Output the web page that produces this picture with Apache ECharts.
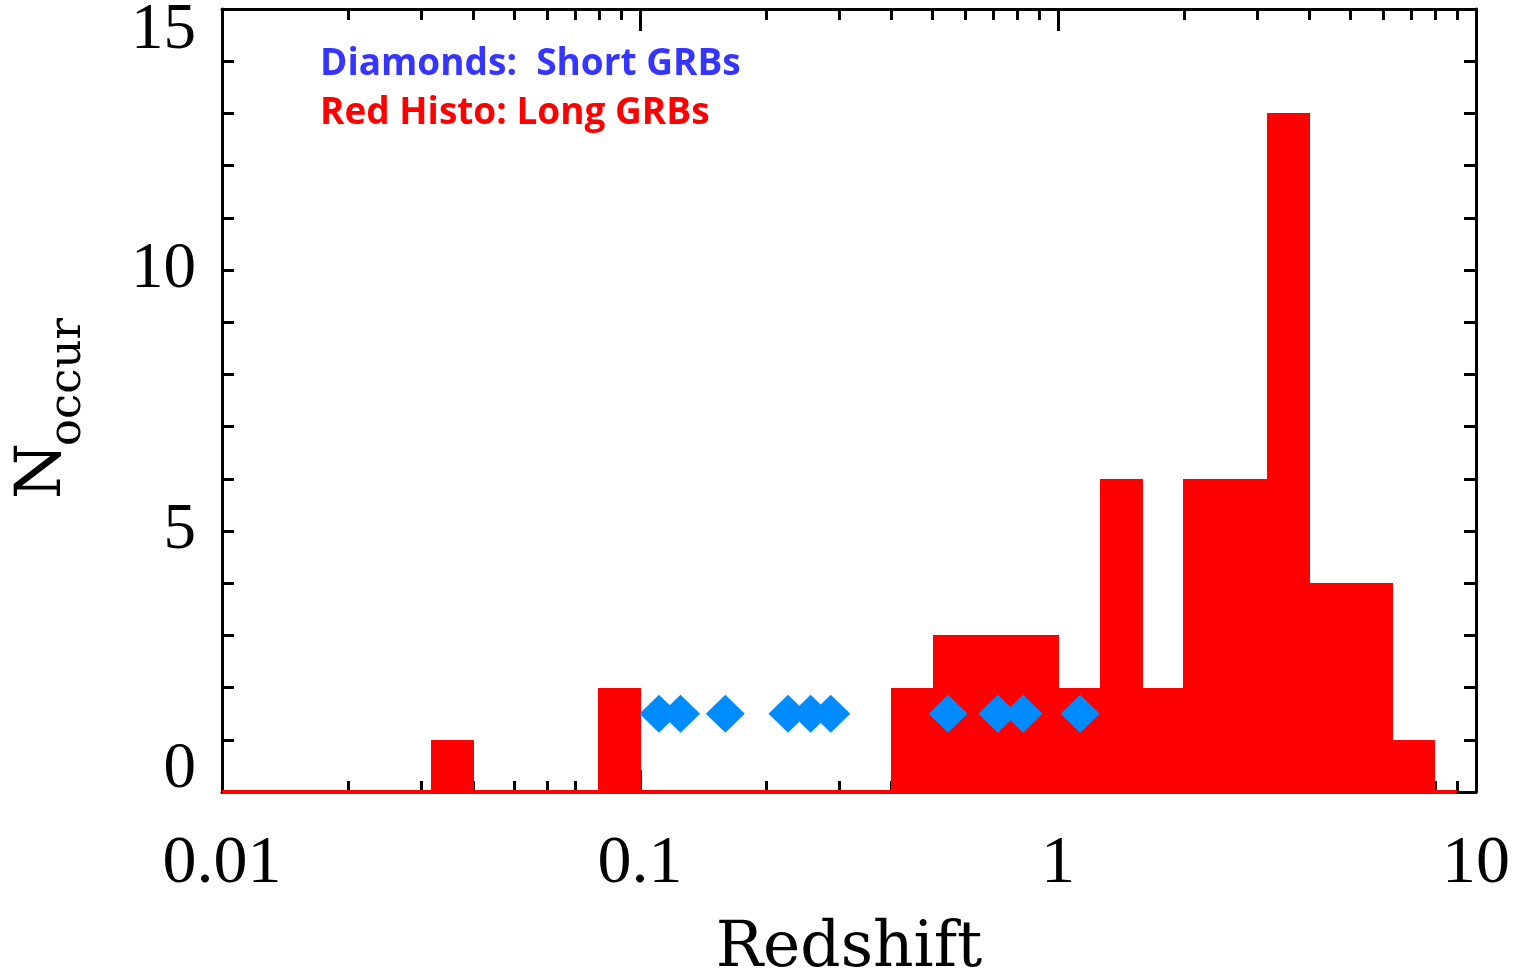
<!DOCTYPE html>
<html><head><meta charset="utf-8">
<script src="https://cdn.jsdelivr.net/npm/echarts@6/dist/echarts.min.js"></script>
<style>html,body{margin:0;padding:0;background:#fff}#c{width:1524px;height:976px}</style>
</head><body><div id="c"></div>
<script>
// Long GRB histogram bins (redshift edges, 0.1 dex bins) and counts
const longBinLo  = [0.0316, 0.0794, 0.398, 0.501, 0.631, 0.794, 1.000, 1.259, 1.585, 1.995, 2.512, 3.162, 3.981, 5.012, 6.310];
const longBinHi  = [0.0398, 0.1000, 0.501, 0.631, 0.794, 1.000, 1.259, 1.585, 1.995, 2.512, 3.162, 3.981, 5.012, 6.310, 7.943];
const longCounts = [1, 2, 2, 3, 3, 3, 2, 6, 2, 6, 6, 13, 4, 4, 1];
// Histogram zero-level extent
const histRange = [0.01, 9.0];
// Short GRB redshifts (diamonds) and their plotted level
const shortRedshifts = [0.111, 0.125, 0.160, 0.226, 0.256, 0.286, 0.546, 0.718, 0.825, 1.13];
const shortLevel = 1.5;
// Axis ticks
const xMajorTicks = [0.01, 0.1, 1, 10];
const xMinorTicks = [0.02,0.03,0.04,0.05,0.06,0.07,0.08,0.09,0.2,0.3,0.4,0.5,0.6,0.7,0.8,0.9,2,3,4,5,6,7,8,9];
const xLabels = ['0.01', '0.1', '1', '10'];
const yMin = 0, yMax = 15, yStep = 5;

const chart = echarts.init(document.getElementById('c'), null, {renderer: 'canvas'});
const tickFont = '"Liberation Serif", "Times New Roman", serif';
const titleFont = '"DejaVu Serif", serif';
const lineStyle = {color: '#000', width: 3};

function xAxisDef(pos, major, showLabel) {
  return {
    type: 'log', logBase: 10, min: 0.01, max: 10, position: pos, gridIndex: 0,
    axisLine: {show: major, lineStyle: lineStyle},
    axisTick: {show: true, inside: true, length: major ? 22 : 11, lineStyle: lineStyle,
               customValues: major ? xMajorTicks : xMinorTicks},
    axisLabel: {show: showLabel, margin: 38, color: '#000', fontFamily: tickFont, fontSize: 68,
                customValues: xMajorTicks,
                formatter: v => xLabels[xMajorTicks.findIndex(t => Math.abs(Math.log10(t) - Math.log10(v)) < 1e-6)] ?? ''},
    splitLine: {show: false}, minorTick: {show: false},
    name: showLabel ? 'Redshift' : '', nameLocation: 'middle', nameGap: 126,
    nameTextStyle: {color: '#000', fontFamily: titleFont, fontSize: 63}
  };
}
function yAxisDef(pos, showLabel) {
  return {
    type: 'value', min: yMin, max: yMax, interval: yStep, position: pos,
    axisLine: {show: true, lineStyle: lineStyle},
    axisTick: {show: true, inside: true, length: 12, lineStyle: lineStyle},
    minorTick: {show: true, splitNumber: 5, length: 12, lineStyle: {color: '#000', width: 3}},
    axisLabel: {show: showLabel, margin: 26, color: '#000', fontFamily: tickFont, fontSize: 65,
                lineHeight: 44,
                verticalAlignMinLabel: 'bottom', verticalAlignMaxLabel: 'top'},
    splitLine: {show: false}
  };
}

chart.setOption({
  animation: false,
  backgroundColor: '#fff',
  grid: {left: 222, right: 48, top: 9, bottom: 184, containLabel: false, outerBoundsMode: 'none'},
  xAxis: [xAxisDef('bottom', true, true), xAxisDef('bottom', false, false),
          xAxisDef('top', true, false), xAxisDef('top', false, false)],
  yAxis: [yAxisDef('left', true), yAxisDef('right', false)],
  graphic: [
    {type: 'text', x: 320, y: 64, z: 100, style: {text: 'Diamonds:  Short GRBs', fill: '#3535ff',
      font: 'bold 37px "Comic Sans MS", "Open Sans", sans-serif', verticalAlign: 'middle'}},
    {type: 'text', x: 320, y: 113, z: 100, style: {text: 'Red Histo: Long GRBs', fill: '#ff0000',
      font: 'bold 37px "Comic Sans MS", "Open Sans", sans-serif', verticalAlign: 'middle'}},
    {type: 'text', x: 43, y: 499, rotation: Math.PI / 2, style: {text: 'N', fill: '#000',
      font: '64px "DejaVu Serif", serif', align: 'left', verticalAlign: 'middle'}},
    {type: 'text', x: 68, y: 446, rotation: Math.PI / 2, style: {text: 'occur', fill: '#000',
      font: '45px "DejaVu Serif", serif', align: 'left', verticalAlign: 'middle'}}
  ],
  series: [
    {
      type: 'line', xAxisIndex: 0, yAxisIndex: 0, z: 3, symbol: 'none', silent: true,
      data: [[histRange[0], 0], [histRange[1], 0]],
      lineStyle: {color: '#ff0000', width: 4}
    },
    {
      type: 'custom', xAxisIndex: 0, yAxisIndex: 0, z: 4, silent: true,
      data: longCounts.map((c, i) => [longBinLo[i], longBinHi[i], c]),
      encode: {x: [0, 1], y: 2},
      renderItem: (params, api) => {
        const p0 = api.coord([api.value(0), 0]);
        const p1 = api.coord([api.value(1), api.value(2)]);
        const x0 = Math.round(p0[0]), x1 = Math.round(p1[0]);
        const y1 = Math.round(p1[1]), y0 = Math.round(p0[1]) + 1;
        return {type: 'rect', shape: {x: x0, y: y1, width: x1 - x0 + 1, height: y0 - y1},
                style: {fill: '#ff0000'}};
      }
    },
    {
      type: 'scatter', xAxisIndex: 0, yAxisIndex: 0, z: 5, silent: true,
      symbol: 'diamond', symbolSize: [39, 38],
      itemStyle: {color: '#008cff', opacity: 1},
      data: shortRedshifts.map(z => [z, shortLevel])
    }
  ]
});
</script></body></html>
